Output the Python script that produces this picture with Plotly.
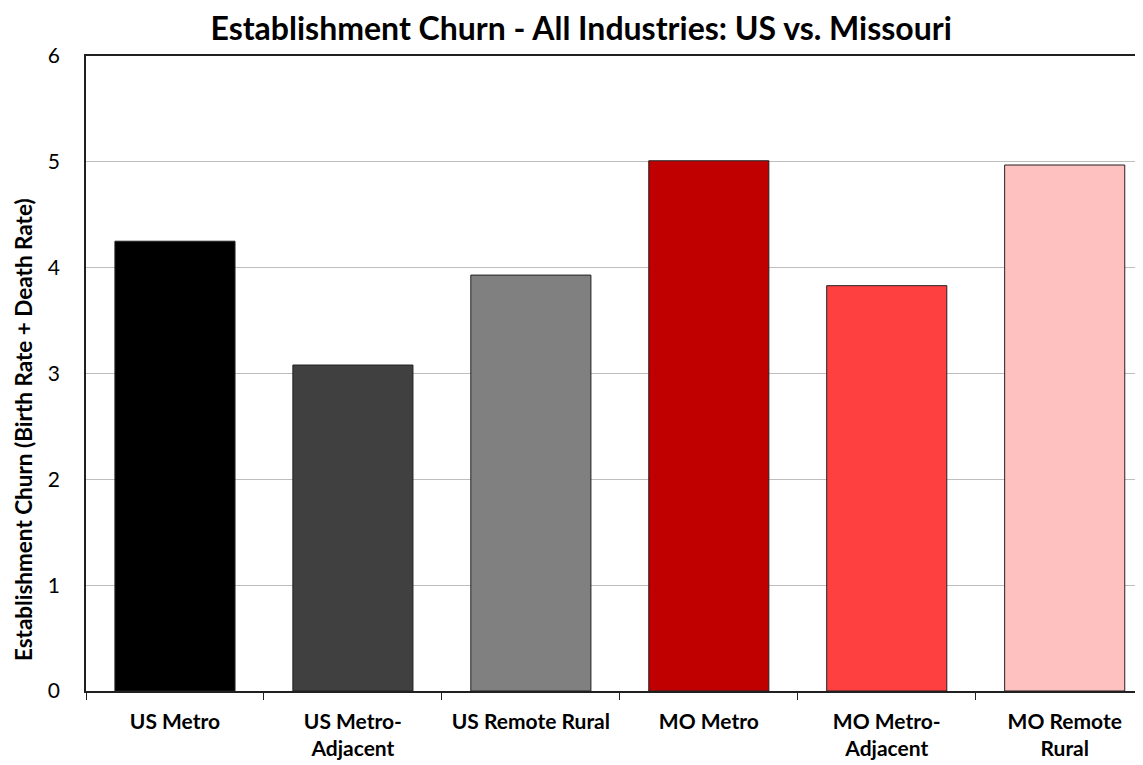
import plotly.graph_objects as go

categories = ["US Metro", "US Metro-<br>Adjacent", "US Remote Rural",
              "MO Metro", "MO Metro-<br>Adjacent", "MO Remote<br>Rural"]
values = [4.25, 3.08, 3.93, 5.01, 3.83, 4.97]
colors = ["#000000", "#404040", "#808080", "#C00000", "#FF4040", "#FFC0C0"]

FONT = "Lato, Open Sans, sans-serif"

fig = go.Figure()
fig.add_trace(go.Bar(
    x=categories, y=values,
    marker=dict(color=colors, line=dict(color="#222222", width=1)),
    width=0.675,
))

fig.update_layout(
    width=1135, height=757,
    margin=dict(l=78, r=0, t=48, b=74),
    paper_bgcolor="white", plot_bgcolor="white",
    showlegend=False,
    title=dict(text="<b>Establishment Churn - All Industries: US vs. Missouri</b>",
               x=0.505, xanchor="center", y=0.9725, yanchor="middle",
               font=dict(family=FONT, size=32, color="black")),
    font=dict(family=FONT, color="black"),
    annotations=[dict(
        text="<b>Establishment Churn (Birth Rate + Death Rate)</b>",
        textangle=-90, xref="paper", yref="paper",
        x=-0.0595, y=0.411, xanchor="center", yanchor="middle",
        showarrow=False, font=dict(family=FONT, size=22.5, color="black"),
    )],
)
fig.update_xaxes(
    type="category", range=[-0.5, 5.44],
    tickvals=categories, ticktext=["<b>" + c + "</b>" for c in categories],
    showline=True, linecolor="#202020", linewidth=1.5, mirror=True,
    ticks="outside", ticklen=7, tickcolor="#202020", tickson="boundaries",
    ticklabelstandoff=11,
    tickfont=dict(size=21, family=FONT, color="black"),
    showgrid=False,
)
fig.update_yaxes(
    range=[0, 6], dtick=1,
    showline=True, linecolor="#202020", linewidth=1.5,
    ticks="", ticklabelstandoff=20,
    tickfont=dict(size=21, color="black"),
    showgrid=True, gridcolor="#BEBEBE", gridwidth=1,
    zeroline=False,
)

fig.write_html("out.html")
